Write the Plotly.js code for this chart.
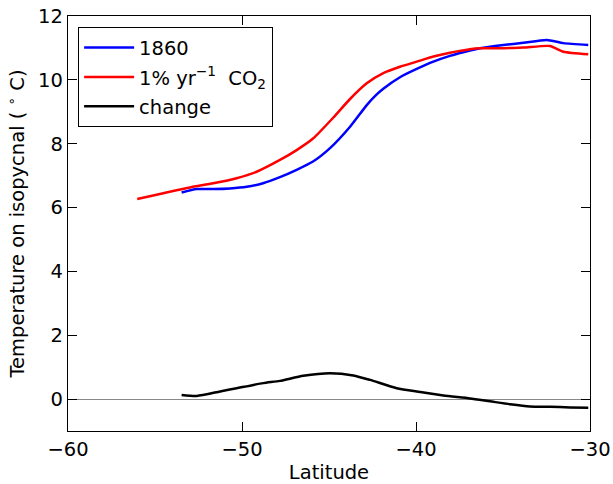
<!DOCTYPE html>
<html>
<head>
<meta charset="utf-8">
<script src="https://cdn.plot.ly/plotly-3.0.1.min.js"></script>
<style>html,body{margin:0;padding:0;background:#fff}</style>
</head>
<body>
<div id="chart" style="width:613px;height:484px"></div>
<script>
const lat1860 = [-53.47, -52.6, -51.6, -50.69, -49.73, -48.79, -47.82, -46.86, -45.92, -44.94, -43.79, -42.83, -42.3, -41.88, -40.92, -39.96, -39.0, -38.05, -36.9, -36.32, -34.98, -33.83, -32.49, -31.53, -30.1];
const temp1860 = [6.47, 6.58, 6.58, 6.60, 6.65, 6.76, 6.95, 7.18, 7.44, 7.86, 8.53, 9.21, 9.52, 9.72, 10.08, 10.34, 10.57, 10.75, 10.92, 10.99, 11.09, 11.16, 11.25, 11.15, 11.09];

const latCO2 = [-56.02, -54.52, -52.99, -51.65, -50.31, -49.16, -47.82, -46.86, -45.90, -44.75, -43.79, -42.83, -41.88, -40.92, -39.96, -39.0, -38.05, -36.9, -36.32, -34.98, -33.83, -32.3, -31.53, -30.1];
const tempCO2 = [6.27, 6.45, 6.63, 6.76, 6.92, 7.12, 7.49, 7.80, 8.17, 8.82, 9.40, 9.89, 10.21, 10.41, 10.57, 10.73, 10.85, 10.96, 10.99, 10.99, 11.01, 11.06, 10.88, 10.80];

const latChange = [-53.47, -52.6, -51.26, -50.31, -48.78, -47.82, -46.48, -44.94, -43.6, -42.64, -41.11, -39.77, -38.43, -36.9, -35.75, -34.6, -33.45, -32.3, -31.15, -30.1];
const tempChange = [0.13, 0.10, 0.24, 0.34, 0.50, 0.57, 0.73, 0.81, 0.74, 0.60, 0.34, 0.22, 0.11, 0.02, -0.07, -0.16, -0.23, -0.24, -0.26, -0.27];

const xTicks = [-60, -50, -40, -30];
const yTicks = [0, 2, 4, 6, 8, 10, 12];

const font = {family: 'DejaVu Sans, sans-serif', size: 19.5, color: '#000'};

const traces = [
  {x: lat1860, y: temp1860, name: '1860', legendgroup: 'a', mode: 'lines', line: {color: '#0000ff', width: 2.5, shape: 'spline', smoothing: 0.6}},
  {x: latCO2, y: tempCO2, name: '1% yr<sup>−1</sup>  CO<sub>2</sub>', legendgroup: 'b', mode: 'lines', line: {color: '#ff0000', width: 2.5, shape: 'spline', smoothing: 0.6}},
  {x: latChange, y: tempChange, name: 'change', legendgroup: 'c', mode: 'lines', line: {color: '#000000', width: 2.5, shape: 'spline', smoothing: 0.6}}
];

const layout = {
  width: 613, height: 484,
  margin: {l: 68, r: 23, t: 16, b: 53},
  paper_bgcolor: '#fff', plot_bgcolor: '#fff',
  font: font,
  showlegend: true,
  legend: {x: 0.019, y: 0.973, xanchor: 'left', yanchor: 'top', bordercolor: '#000', borderwidth: 1.2, bgcolor: '#fff', font: font, tracegroupgap: 1, itemwidth: 50},
  xaxis: {
    range: [-60, -30], tickvals: xTicks, ticktext: xTicks.map(v => '−' + Math.abs(v)),
    ticks: 'inside', ticklen: 9, tickcolor: '#000', mirror: 'ticks', showline: true, linecolor: '#000', linewidth: 1.2,
    showgrid: false, zeroline: false, tickfont: font,
    title: {text: 'Latitude', font: font, standoff: 6}
  },
  yaxis: {
    range: [-1, 12], tickvals: yTicks,
    ticks: 'inside', ticklen: 9, tickcolor: '#000', mirror: 'ticks', showline: true, linecolor: '#000', linewidth: 1.2,
    showgrid: false, zeroline: true, zerolinecolor: '#888', zerolinewidth: 1, tickfont: font,
    title: {text: 'Temperature on isopycnal ( <sup>∘</sup> C)', font: font, standoff: 8}
  }
};

Plotly.newPlot('chart', traces, layout, {displayModeBar: false, staticPlot: true});
</script>
</body>
</html>
